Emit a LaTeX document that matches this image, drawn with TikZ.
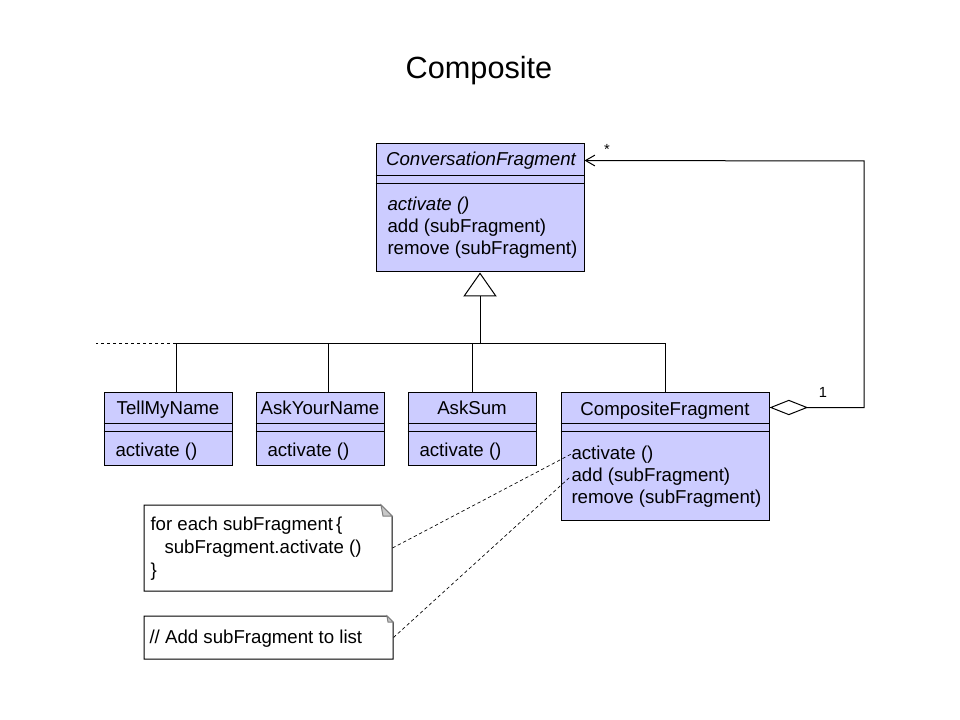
\documentclass[tikz,border=0pt]{standalone}
\usepackage{fontspec}
\setmainfont{Liberation Sans}
\usetikzlibrary{arrows.meta,fit,calc}
\definecolor{classfill}{RGB}{204,204,255}
\definecolor{foldgray}{RGB}{200,200,200}
\begin{document}
\begin{tikzpicture}[x=0.75pt,y=-0.75pt,line width=0.75pt,
	cls/.style={draw,fill=classfill,inner sep=0pt},
	txt/.style={inner sep=0pt,anchor=base west,font=\fontsize{14}{17}\selectfont},
	ctxt/.style={inner sep=0pt,anchor=base,font=\fontsize{14}{17}\selectfont},
	mult/.style={inner sep=0pt,anchor=base,font=\fontsize{11}{13}\selectfont},
	dashline/.style={dash pattern=on 2.5pt off 2pt,line width=0.5pt}]
	\useasboundingbox (0,0) rectangle (960,720);
	\node[inner sep=0pt,anchor=base,font=\fontsize{23}{28}\selectfont] (title) at (479,79) {Composite};
	% classes
	\node[cls,fit={(376,144) (584,272)}] (conv) {};
	\node[cls,fit={(104,392) (232,465)}] (tell) {};
	\node[cls,fit={(256,392) (384,465)}] (askyour) {};
	\node[cls,fit={(408,392) (536,465)}] (asksum) {};
	\node[cls,fit={(561,392) (769,520)}] (compos) {};
	\foreach \c in {conv,tell,askyour,asksum,compos}{
		\draw ($(\c.north west)+(0,32)$) -- ($(\c.north east)+(0,32)$);
		\draw ($(\c.north west)+(0,40)$) -- ($(\c.north east)+(0,40)$);
	}
	\node[ctxt] (conv-name) at (481,166) {\itshape ConversationFragment};
	\node[txt] (conv-m1) at (387,211) {\itshape activate ()};
	\node[txt] (conv-m2) at (387,233) {add (subFragment)};
	\node[txt] (conv-m3) at (387,255) {remove (subFragment)};
	\node[ctxt] (tell-name) at (168,414) {TellMyName};
	\node[txt] (tell-m1) at (115,456) {activate ()};
	\node[ctxt] (askyour-name) at (320,414) {AskYourName};
	\node[txt] (askyour-m1) at (267,456) {activate ()};
	\node[ctxt] (asksum-name) at (472,414) {AskSum};
	\node[txt] (asksum-m1) at (419,456) {activate ()};
	\node[ctxt] (compos-name) at (665,415) {CompositeFragment};
	\node[txt] (compos-m1) at (571,459) {activate ()};
	\node[txt] (compos-m2) at (571,481) {add (subFragment)};
	\node[txt] (compos-m3) at (571,503) {remove (subFragment)};
	% generalization
	\coordinate (bus) at (480,344);
	\draw[-{Triangle[open,length=18pt,width=25pt]}] (bus) -- (conv.south);
	\draw ($(tell.north)+(8,0)$) -- ++(0,-48) -| (compos.north);
	\draw ($(askyour.north)+(8,0)$) -- ++(0,-48);
	\draw (asksum.north) -- ++(0,-48);
	\draw[dashline] ($(tell.north)+(8,-48)$) -- ++(-80,0);
	% aggregation
	\coordinate (turn) at (864,161);
	\draw[{Diamond[open,length=29pt,width=11.5pt]}-{Straight Barb[length=7pt,width=8pt]}]
		($(compos.north east)+(0,16)$) -| (turn) -- ($(conv.north east)+(0,17)$);
	\node[mult] (one) at (823,397) {1};
	\node[mult] (many) at (607,155) {*};
	% notes
	\draw[fill=white] (144,505) -- (381,505) -- (392,516) -- (392,591) -- (144,591) -- cycle;
	\draw[fill=foldgray,draw=gray] (381,505) -- (383,516) -- (392,516) -- cycle;
	\node[inner sep=0pt,fit={(144,505) (392,591)}] (note1) {};
	\node[txt] (note1-l1) at (150,530) {for each subFragment\,\{};
	\node[txt] (note1-l2) at (164,553) {subFragment.activate ()};
	\node[txt] (note1-l3) at (150,576) {\}};
	\draw[fill=white] (144,616) -- (387,616) -- (393,622) -- (393,659) -- (144,659) -- cycle;
	\draw[fill=foldgray,draw=gray] (387,616) -- (388,622) -- (393,622) -- cycle;
	\node[inner sep=0pt,fit={(144,616) (393,659)}] (note2) {};
	\node[txt] (note2-l1) at (149,643) {// Add subFragment to list};
	\draw[dashline] (note1.east) -- (compos-m1.west);
	\draw[dashline] (note2.east) -- (compos-m2.west);
\end{tikzpicture}
\end{document}
